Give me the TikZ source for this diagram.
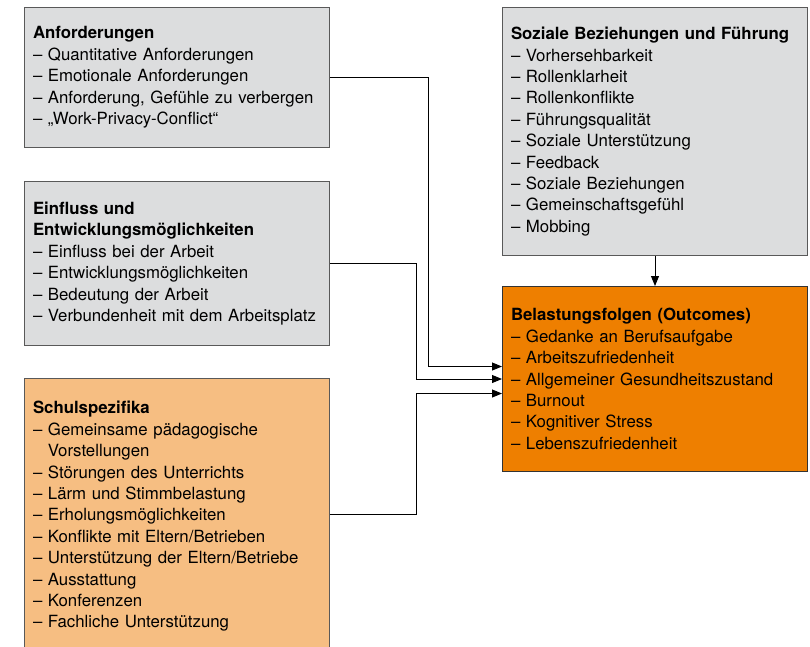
\documentclass[tikz,border=0pt]{standalone}
\usepackage{fontspec}
\setmainfont{TeX Gyre Heros}
\usetikzlibrary{arrows.meta}
\definecolor{boxgray}{HTML}{DCDDDE}
\definecolor{boxorange}{HTML}{EE7F00}
\definecolor{boxpeach}{HTML}{F6BE82}
\begin{document}
\begin{tikzpicture}[x=1pt, y=-1pt,
        kasten/.style={draw=black!65, line width=1pt, anchor=north west,
            minimum width=305pt, text width=288pt, inner xsep=8.5pt,
            align=left, font=\fontsize{16.8}{21.4}\selectfont},
        pfeil/.style={line width=0.9pt, -{Triangle[length=10pt, width=8pt]}}]
    \useasboundingbox (0, 0) rectangle (810, 646);
    \clip (0, 0) rectangle (810, 646);

    \node[kasten, fill=boxgray, minimum height=140pt] (anf) at (24, 7){\textbf{Anforderungen}\\
        – Quantitative Anforderungen\\
        – Emotionale Anforderungen\\
        – Anforderung, Gefühle zu verbergen\\
        – „Work-Privacy-Conflict“};
    \node[kasten, fill=boxgray, minimum height=164pt] (einfl) at (24, 181){\textbf{Einfluss und}\\
        \textbf{Entwicklungsmöglichkeiten}\\
        – Einfluss bei der Arbeit\\
        – Entwicklungsmöglichkeiten\\
        – Bedeutung der Arbeit\\
        – Verbundenheit mit dem Arbeitsplatz};
    \node[kasten, fill=boxpeach, minimum height=276pt] (schul) at (24, 378){\textbf{Schulspezifika}\\
        – Gemeinsame pädagogische\\
        \phantom{– }Vorstellungen\\
        – Störungen des Unterrichts\\
        – Lärm und Stimmbelastung\\
        – Erholungsmöglichkeiten\\
        – Konflikte mit Eltern/Betrieben\\
        – Unterstützung der Eltern/Betriebe\\
        – Ausstattung\\
        – Konferenzen\\
        – Fachliche Unterstützung};
    \node[kasten, fill=boxgray, minimum height=248pt] (sozial) at (502, 7){\textbf{Soziale Beziehungen und Führung}\\
        – Vorhersehbarkeit\\
        – Rollenklarheit\\
        – Rollenkonflikte\\
        – Führungsqualität\\
        – Soziale Unterstützung\\
        – Feedback\\
        – Soziale Beziehungen\\
        – Gemeinschaftsgefühl\\
        – Mobbing};
    \node[kasten, fill=boxorange, draw=black!80, minimum height=185pt] (out) at (502, 286){\textbf{Belastungsfolgen (Outcomes)}\\
        – Gedanke an Berufsaufgabe\\
        – Arbeitszufriedenheit\\
        – Allgemeiner Gesundheitszustand\\
        – Burnout\\
        – Kognitiver Stress\\
        – Lebenszufriedenheit};

    \draw[pfeil] (anf.east) -- ++(98, 0) |- ([yshift=12.5pt]out.west);
    \draw[pfeil] (einfl.east) -- ++(86, 0) |- (out.west);
    \draw[pfeil] ([yshift=2pt]schul.east) -- ++(86, 0) |- ([yshift=-14.5pt]out.west);
    \draw[pfeil] (sozial.south) -- (out.north);
\end{tikzpicture}
\end{document}
